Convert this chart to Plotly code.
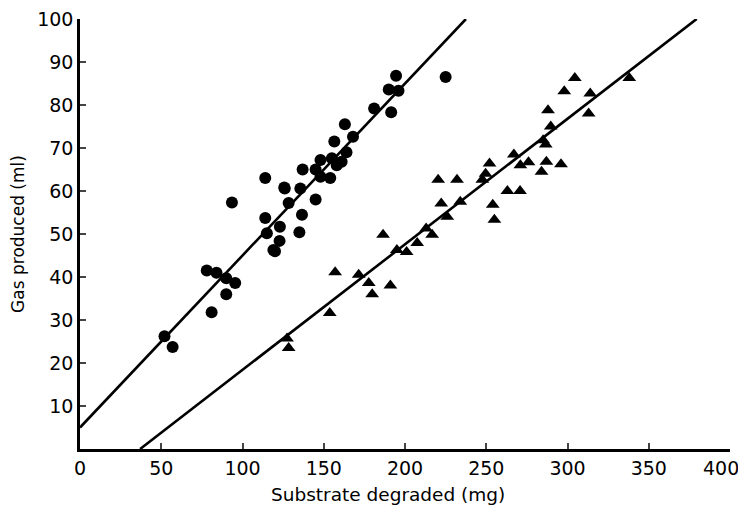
import plotly.graph_objects as go

# Circles (first substrate)
circle_x = [52, 57, 78, 84, 81, 90, 90, 93.5, 95.5, 114, 114, 115, 119, 120, 122.8, 123,
            126, 125.7, 128.4, 135, 136.6, 135.6, 137, 145, 145, 148, 148, 154, 155, 158,
            156.5, 161, 164, 163, 168, 181, 190, 191.5, 194.5, 196, 225]
circle_y = [26.2, 23.7, 41.5, 41, 31.8, 39.7, 36, 57.3, 38.6, 63, 53.7, 50.2, 46.3, 46, 48.4, 51.7,
            60.6, 60.8, 57.2, 50.4, 54.5, 60.6, 65, 65, 58, 67.2, 63.3, 63, 67.6, 66,
            71.5, 66.8, 69, 75.5, 72.6, 79.2, 83.6, 78.3, 86.8, 83.3, 86.5]

# Triangles (second substrate)
tri_x = [127.4, 128.4, 153.7, 157, 171.5, 177.7, 179.8, 186.5, 191, 195, 201, 207.5, 213, 216.7,
         220.4, 222.3, 226, 232, 234, 247.6, 249.6, 252, 254, 255, 263, 267, 270.8, 271, 276,
         284, 285, 286.6, 287, 288, 289.7, 296, 298, 304.5, 313, 314, 338]
tri_y = [25.7, 23.5, 31.6, 41.1, 40.5, 38.6, 36, 49.8, 38, 46.3, 45.8, 47.9, 51.3, 49.8,
         62.6, 57.1, 54, 62.6, 57.5, 62.6, 64, 66.4, 56.8, 53.3, 60, 68.5, 60, 66, 66.7,
         64.5, 71.8, 70.8, 66.8, 78.8, 75, 66.2, 83.2, 86.3, 78, 82.7, 86.3]

# Fitted lines: y = intercept + slope * x
circle_fit = {"intercept": 5.0, "slope": 0.40, "x0": 0, "x1": 237.5}
tri_fit = {"intercept": -10.8, "slope": 0.292, "x0": 37, "x1": 379.5}

x_ticks = [0, 50, 100, 150, 200, 250, 300, 350, 400]
x_tick_labels = ["0", "50", "100", "150", "200", "250", "300", "350", "400"]
y_ticks = [10, 20, 30, 40, 50, 60, 70, 80, 90, 100]

FONT = "DejaVu Sans"

fig = go.Figure()

for fit in (circle_fit, tri_fit):
    xs = [fit["x0"], fit["x1"]]
    ys = [fit["intercept"] + fit["slope"] * v for v in xs]
    fig.add_trace(go.Scatter(x=xs, y=ys, mode="lines",
                             line=dict(color="black", width=2.6), showlegend=False))

fig.add_trace(go.Scatter(x=circle_x, y=circle_y, mode="markers",
                         marker=dict(symbol="circle", size=12, color="black"),
                         showlegend=False, cliponaxis=False))
fig.add_trace(go.Scatter(x=tri_x, y=tri_y, mode="markers",
                         marker=dict(symbol="triangle-up", size=12, color="black"),
                         showlegend=False, cliponaxis=False))

# page body adds an 8px offset, so the figure is 738x499
fig.update_layout(
    width=738, height=499,
    margin=dict(l=72, r=16, t=11, b=58),
    paper_bgcolor="white", plot_bgcolor="white",
    font=dict(family=FONT, color="black", size=16),
)
# the last x label is drawn separately (nudged left, as in the original)
fig.update_xaxes(
    range=[0, 400], tickvals=x_ticks, ticktext=x_tick_labels[:-1] + [""],
    ticks="inside", ticklen=6, tickwidth=2,
    showline=True, linecolor="black", linewidth=2.5, showgrid=False, zeroline=False,
    tickfont=dict(size=19), automargin=False, ticklabeloverflow="allow",
)
fig.update_yaxes(
    range=[0, 100], tickvals=y_ticks, ticks="inside", ticklen=6, tickwidth=2,
    showline=True, linecolor="black", linewidth=2.5, showgrid=False, zeroline=False,
    tickfont=dict(size=19), automargin=False, ticklabeloverflow="allow",
    title=dict(text="Gas produced (ml)", font=dict(size=17)),
)

fig.add_annotation(text=x_tick_labels[-1], x=x_ticks[-1], xref="x", y=0, yref="paper",
                   xanchor="center", yanchor="top", yshift=-6, xshift=-9,
                   showarrow=False, font=dict(size=19))

# x title sits a little left of the axis centre in the original
fig.add_annotation(text="Substrate degraded (mg)", xref="paper", yref="paper",
                   x=0.474, y=-0.105, xanchor="center", yanchor="middle",
                   showarrow=False, font=dict(size=18.5))

fig.write_html("out.html")
